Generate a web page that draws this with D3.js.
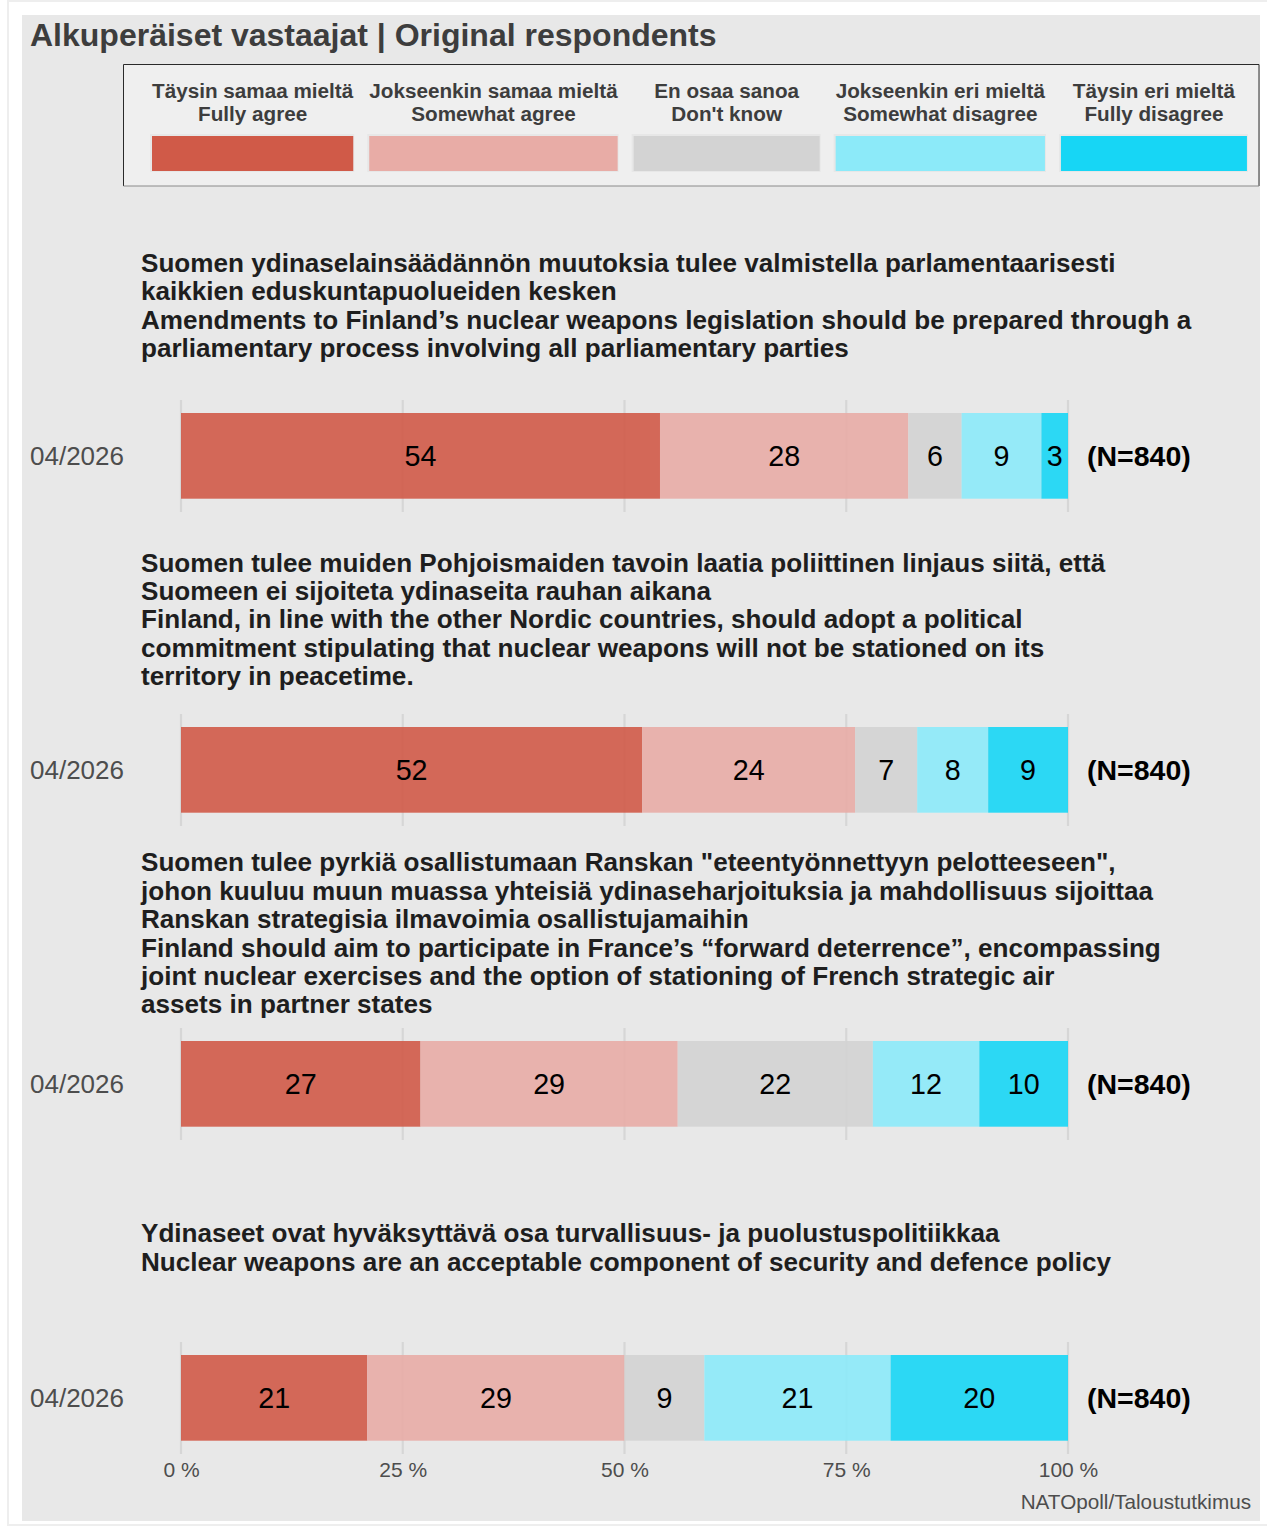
<!DOCTYPE html>
<html>
<head>
<meta charset="utf-8">
<script src="https://cdn.jsdelivr.net/npm/d3@7"></script>
<style>
  html, body { margin: 0; padding: 0; background: #ffffff; }
  svg { display: block; }
  text { font-family: "Liberation Sans", Arial, Helvetica, sans-serif; }
</style>
</head>
<body>
<svg id="chart" width="1267" height="1526"></svg>
<script>
// ---- data ----
const chartTitle = "Alkuperäiset vastaajat | Original respondents";
const caption = "NATOpoll/Taloustutkimus";

const categoriesFi = ["Täysin samaa mieltä", "Jokseenkin samaa mieltä", "En osaa sanoa", "Jokseenkin eri mieltä", "Täysin eri mieltä"];
const categoriesEn = ["Fully agree", "Somewhat agree", "Don't know", "Somewhat disagree", "Fully disagree"];
const categoryKeys = ["fullyAgree", "somewhatAgree", "dontKnow", "somewhatDisagree", "fullyDisagree"];

const questions = [
  ["Suomen ydinaselainsäädännön muutoksia tulee valmistella parlamentaarisesti",
   "kaikkien eduskuntapuolueiden kesken",
   "Amendments to Finland’s nuclear weapons legislation should be prepared through a",
   "parliamentary process involving all parliamentary parties"],
  ["Suomen tulee muiden Pohjoismaiden tavoin laatia poliittinen linjaus siitä, että",
   "Suomeen ei sijoiteta ydinaseita rauhan aikana",
   "Finland, in line with the other Nordic countries, should adopt a political",
   "commitment stipulating that nuclear weapons will not be stationed on its",
   "territory in peacetime."],
  ["Suomen tulee pyrkiä osallistumaan Ranskan \"eteentyönnettyyn pelotteeseen\",",
   "johon kuuluu muun muassa yhteisiä ydinaseharjoituksia ja mahdollisuus sijoittaa",
   "Ranskan strategisia ilmavoimia osallistujamaihin",
   "Finland should aim to participate in France’s “forward deterrence”, encompassing",
   "joint nuclear exercises and the option of stationing of French strategic air",
   "assets in partner states"],
  ["Ydinaseet ovat hyväksyttävä osa turvallisuus- ja puolustuspolitiikkaa",
   "Nuclear weapons are an acceptable component of security and defence policy"]
];

const periods = ["04/2026", "04/2026", "04/2026", "04/2026"];
const fullyAgree       = [54, 52, 27, 21];
const somewhatAgree    = [28, 24, 29, 29];
const dontKnow         = [6, 7, 22, 9];
const somewhatDisagree = [9, 8, 12, 21];
const fullyDisagree    = [3, 9, 10, 20];
const sampleSizes      = [840, 840, 840, 840];
const tickValues       = [0, 25, 50, 75, 100];

// ---- styles ----
const colors = ["#d05a48", "#e8aca6", "#d3d3d3", "#8ceaf9", "#17d6f5"];
const panelBg = "#e8e8e8";
const font = '"Liberation Sans", Arial, Helvetica, sans-serif';

// ---- layout ----
const W = 1267, H = 1526;
const panel = { x: 22, y: 15, w: 1238, h: 1506 };
const firstGridTop = 400, facetStep = 314, gridH = 112;
const barOffset = 13, barH = 85.7;
const stripH = 202;
const titleX = 141, titleLineH = 28.4, titleSize = 26.1;

const rows = periods.map((p, i) => ({
  index: i,
  period: p,
  n: sampleSizes[i],
  fullyAgree: fullyAgree[i],
  somewhatAgree: somewhatAgree[i],
  dontKnow: dontKnow[i],
  somewhatDisagree: somewhatDisagree[i],
  fullyDisagree: fullyDisagree[i]
}));

const stacked = d3.stack().keys(categoryKeys)(rows);

const x = d3.scaleLinear().domain([0, 100]).range([181, 1068]);
const color = d3.scaleOrdinal().domain(categoryKeys).range(colors);

const svg = d3.select("#chart");

// outer frame and panel
svg.append("rect").attr("x", 8).attr("y", 1).attr("width", W + 10).attr("height", H - 2)
  .attr("fill", "#ffffff").attr("stroke", "#eeeeee").attr("stroke-width", 2);
svg.append("rect").attr("x", panel.x).attr("y", panel.y).attr("width", panel.w).attr("height", panel.h)
  .attr("fill", panelBg);

// main title
svg.append("text").attr("x", 30).attr("y", 46)
  .attr("font-size", 32).attr("font-weight", "bold").attr("fill", "#3d3d3d")
  .text(chartTitle);

// ---- legend ----
const legend = svg.append("g");
const legendBox = { x: 123.5, y: 64.5, w: 1135.5, h: 121.5 };
legend.append("rect").attr("x", legendBox.x).attr("y", legendBox.y)
  .attr("width", legendBox.w).attr("height", legendBox.h).attr("fill", "#efefef");
legend.append("path")
  .attr("d", `M${legendBox.x},${legendBox.y + legendBox.h}V${legendBox.y}H${legendBox.x + legendBox.w}V${legendBox.y + legendBox.h}`)
  .attr("fill", "none").attr("stroke", "#2a2a2a").attr("stroke-width", 1);
legend.append("path")
  .attr("d", `M${legendBox.x},${legendBox.y + legendBox.h}H${legendBox.x + legendBox.w}`)
  .attr("fill", "none").attr("stroke", "#8a8a8a").attr("stroke-width", 1);

const legendFontSize = 20.7, keyMinW = 186, keyGap = 16;
let kx = 152;
categoryKeys.forEach((k, i) => {
  const g = legend.append("g");
  const t1 = g.append("text").attr("y", 98).attr("font-size", legendFontSize)
    .attr("font-weight", "bold").attr("fill", "#3d3d3d").attr("text-anchor", "middle").text(categoriesFi[i]);
  const t2 = g.append("text").attr("y", 121).attr("font-size", legendFontSize)
    .attr("font-weight", "bold").attr("fill", "#3d3d3d").attr("text-anchor", "middle").text(categoriesEn[i]);
  const tw = Math.max(t1.node().getComputedTextLength(), t2.node().getComputedTextLength());
  const kw = Math.max(tw, keyMinW);
  t1.attr("x", kx + kw / 2);
  t2.attr("x", kx + kw / 2);
  g.append("rect").attr("x", kx - 2).attr("y", 134).attr("width", kw + 3).attr("height", 38)
    .attr("fill", "#e7e7e7");
  g.append("rect").attr("x", kx).attr("y", 136).attr("width", kw).attr("height", 35)
    .attr("fill", color(k));
  kx += kw + keyGap;
});

// ---- facets ----
rows.forEach((row, i) => {
  const gridTop = firstGridTop + i * facetStep;
  const barTop = gridTop + barOffset;
  const barMid = barTop + barH / 2;
  const g = svg.append("g");

  // question title, centred in the strip above the bars
  const lines = questions[i];
  const stripMid = gridTop - stripH / 2;
  const firstBase = stripMid - (lines.length - 1) * titleLineH / 2 + 15.3;
  const title = g.append("text").attr("x", titleX).attr("font-size", titleSize)
    .attr("font-weight", "bold").attr("fill", "#1e1e1e");
  lines.forEach((ln, j) => {
    title.append("tspan").attr("x", titleX).attr("y", firstBase + j * titleLineH).text(ln);
  });

  // vertical grid lines
  g.selectAll("line.grid").data(tickValues).join("line")
    .attr("class", "grid")
    .attr("x1", d => x(d)).attr("x2", d => x(d))
    .attr("y1", gridTop).attr("y2", gridTop + gridH)
    .attr("stroke", "#d6d6d6").attr("stroke-width", 2.2);

  // period label
  g.append("text").attr("x", 30).attr("y", barMid + 9.4)
    .attr("font-size", 26).attr("fill", "#4d4d4d").text(row.period);

  // stacked segments
  stacked.forEach(series => {
    const seg = series[i];
    g.append("rect")
      .attr("x", x(seg[0])).attr("y", barTop)
      .attr("width", x(seg[1]) - x(seg[0])).attr("height", barH)
      .attr("fill", color(series.key)).attr("fill-opacity", 0.9);
  });
  stacked.forEach(series => {
    const seg = series[i];
    g.append("text")
      .attr("x", (x(seg[0]) + x(seg[1])) / 2).attr("y", barMid + 10.2)
      .attr("text-anchor", "middle").attr("font-size", 28.7).attr("fill", "#000000")
      .text(seg.data[series.key]);
  });

  // sample size
  g.append("text").attr("x", 1087).attr("y", barMid + 10.2)
    .attr("font-size", 28.5).attr("font-weight", "bold").attr("fill", "#000000")
    .text(`(N=${row.n})`);

  // percentage axis below the last facet
  if (i === rows.length - 1) {
    const axis = d3.axisBottom(x).tickValues(tickValues).tickSize(0).tickPadding(0)
      .tickFormat(d => `${d} %`);
    const ax = g.append("g").attr("transform", `translate(0, ${gridTop + gridH})`).call(axis);
    ax.select(".domain").remove();
    ax.selectAll("text").attr("y", 22.5).attr("dy", 0)
      .attr("font-family", font).attr("font-size", 21).attr("fill", "#4d4d4d");
  }
});

// caption
svg.append("text").attr("x", 1251).attr("y", 1509).attr("text-anchor", "end")
  .attr("font-size", 20.7).attr("fill", "#4d4d4d").text(caption);
</script>
</body>
</html>
